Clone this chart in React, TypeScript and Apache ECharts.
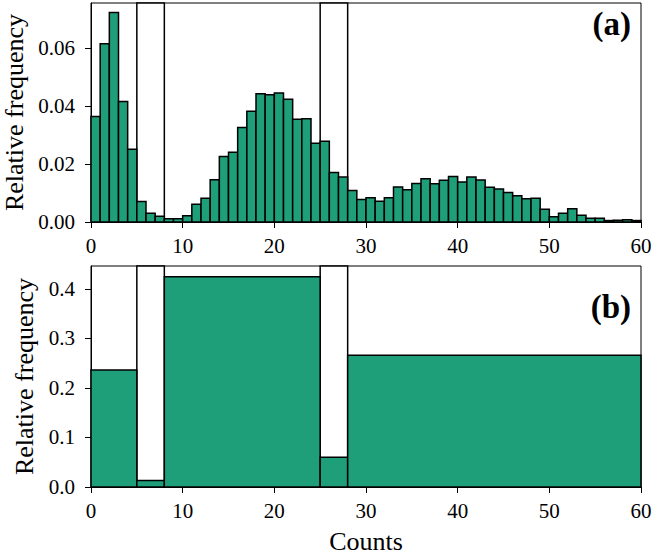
import React, { useEffect, useRef } from "react";
import * as echarts from "echarts";

// Panel (a): relative frequency per unit-width bin, bins start at 0
const binValuesA = [
  0.0364, 0.0615, 0.0723, 0.0416, 0.0251, 0.0071, 0.0030, 0.0020, 0.0011, 0.0011,
  0.0022, 0.0061, 0.0082, 0.0146, 0.0226, 0.0241, 0.0326, 0.0382, 0.0443, 0.0439,
  0.0445, 0.0424, 0.0355, 0.0356, 0.0272, 0.0279, 0.0171, 0.0155, 0.0109, 0.0078,
  0.0084, 0.0072, 0.0084, 0.0121, 0.0111, 0.0133, 0.0149, 0.0132, 0.0144, 0.0157,
  0.0138, 0.0155, 0.0145, 0.0120, 0.0114, 0.0102, 0.0091, 0.0080, 0.0082, 0.0044,
  0.0018, 0.0030, 0.0046, 0.0023, 0.0013, 0.0013, 0.0005, 0.0006, 0.0008, 0.0005,
];
const binWidthA = 1;

// Panel (b): merged bins
const binEdgesB = [0, 5, 8, 25, 28, 60];
const binValuesB = [0.236, 0.0129, 0.4244, 0.0602, 0.266];

// Highlighted gap regions (white boxes)
const gapStarts = [5, 25];
const gapEnds = [8, 28];

const xTicks = [0, 10, 20, 30, 40, 50, 60];
const yTicksA = [0, 0.02, 0.04, 0.06];
const yTicksB = [0, 0.1, 0.2, 0.3, 0.4];
const yMaxA = 0.0756;
const yMaxB = 0.446;

const FILL = "#1f9e7a";
const FONT = "'Liberation Serif', 'Times New Roman', serif";

export default function App() {
  const ref = useRef<HTMLDivElement>(null);
  useEffect(() => {
    if (!ref.current) return;
    const chart = echarts.init(ref.current, null, { renderer: "svg" });

    const histData = (starts: number[], ends: number[], vals: number[]) =>
      vals.map((v, i) => [starts[i], ends[i], v]);

    const dataA = histData(
      binValuesA.map((_, i) => i * binWidthA),
      binValuesA.map((_, i) => (i + 1) * binWidthA),
      binValuesA
    );
    const dataB = histData(binEdgesB.slice(0, -1), binEdgesB.slice(1), binValuesB);
    const gapsA = histData(gapStarts, gapEnds, gapStarts.map(() => yMaxA));
    const gapsB = histData(gapStarts, gapEnds, gapStarts.map(() => yMaxB));

    const rectRender = (fill: string) => (params: any, api: any) => {
      const x0 = api.value(0);
      const x1 = api.value(1);
      const v = api.value(2);
      const p0 = api.coord([x0, v]);
      const p1 = api.coord([x1, 0]);
      return {
        type: "rect",
        shape: { x: p0[0], y: p0[1], width: p1[0] - p0[0], height: p1[1] - p0[1] },
        style: { fill, stroke: "#000", lineWidth: 1.5 },
      };
    };

    const axisCommon = {
      axisLine: { show: true, lineStyle: { color: "#000", width: 1 } },
      axisTick: { show: true, length: 6, inside: false, lineStyle: { color: "#000", width: 1 } },
      splitLine: { show: false },
    };

    const xAxisDef = (gridIndex: number, name: string) => ({
      type: "value",
      gridIndex,
      min: 0,
      max: 60,
      interval: 10,
      ...axisCommon,
      axisTick: { ...axisCommon.axisTick, customValues: xTicks },
      axisLabel: {
        customValues: xTicks,
        color: "#000",
        fontFamily: FONT,
        fontSize: 21,
        margin: 13,
      },
      name,
      nameLocation: "middle",
      nameGap: 41,
      nameTextStyle: { color: "#000", fontFamily: FONT, fontSize: 26 },
    });

    const yAxisDef = (gridIndex: number, max: number, ticks: number[], digits: number, gap: number) => ({
      type: "value",
      gridIndex,
      min: 0,
      max,
      ...axisCommon,
      axisTick: { ...axisCommon.axisTick, customValues: ticks },
      axisLabel: {
        customValues: ticks,
        color: "#000",
        fontFamily: FONT,
        fontSize: 21,
        margin: 16,
        formatter: (v: number) => v.toFixed(digits),
      },
      name: "Relative frequency",
      nameLocation: "middle",
      nameRotate: 90,
      nameGap: gap,
      nameTextStyle: { color: "#000", fontFamily: FONT, fontSize: 26 },
    });

    const gridCommon = {
      left: 91,
      width: 550,
      show: true,
      borderColor: "#000",
      borderWidth: 1,
      backgroundColor: "transparent",
      containLabel: false,
      outerBoundsMode: "none",
    };

    chart.setOption({
      animation: false,
      backgroundColor: "#fff",
      textStyle: { fontFamily: FONT },
      grid: [
        { ...gridCommon, top: 3, height: 219 },
        { ...gridCommon, top: 266, height: 221 },
      ],
      xAxis: [xAxisDef(0, ""), xAxisDef(1, "Counts")],
      yAxis: [yAxisDef(0, yMaxA, yTicksA, 2, 62), yAxisDef(1, yMaxB, yTicksB, 1, 53)],
      series: [
        { type: "custom", xAxisIndex: 0, yAxisIndex: 0, data: gapsA, encode: { x: [0, 1], y: 2 }, renderItem: rectRender("#fff"), z: 1 },
        { type: "custom", xAxisIndex: 0, yAxisIndex: 0, data: dataA, encode: { x: [0, 1], y: 2 }, renderItem: rectRender(FILL), z: 2 },
        { type: "custom", xAxisIndex: 1, yAxisIndex: 1, data: gapsB, encode: { x: [0, 1], y: 2 }, renderItem: rectRender("#fff"), z: 1 },
        { type: "custom", xAxisIndex: 1, yAxisIndex: 1, data: dataB, encode: { x: [0, 1], y: 2 }, renderItem: rectRender(FILL), z: 2 },
      ],
      graphic: [
        { type: "text", right: 22, top: 7, style: { text: "(a)", font: `bold 33px ${FONT}`, fill: "#000" }, z: 10 },
        { type: "text", right: 22, top: 290, style: { text: "(b)", font: `bold 33px ${FONT}`, fill: "#000" }, z: 10 },
      ],
    });
    return () => chart.dispose();
  }, []);
  return <div ref={ref} style={{ position: "fixed", left: 0, top: 0, width: 653, height: 557 }} />;
}
